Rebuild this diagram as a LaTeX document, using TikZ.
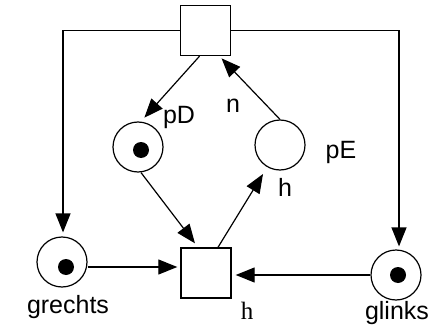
\documentclass[tikz,border=0pt]{standalone}
\usepackage{fontspec}
\setmainfont{Liberation Sans}
\newfontfamily\serifh{Liberation Serif}
\usetikzlibrary{arrows.meta,calc}
\tikzset{
  place/.style={circle,draw,line width=1.2pt,minimum size=50pt,inner sep=0pt},
  trans/.style={rectangle,draw,line width=1.4pt,minimum size=50pt,inner sep=0pt},
  token/.style={circle,fill=black,minimum size=16pt,inner sep=0pt},
  arc/.style={-{Triangle[length=19pt,width=15pt]},line width=1.2pt},
  lbl/.style={font=\fontsize{25}{28}\selectfont,inner sep=0pt},
}

\begin{document}
\begin{tikzpicture}[x=1pt,y=-1pt]
  \useasboundingbox[fill=white] (0,0) rectangle (436,334);

  % transitions
  \node[trans] (tTop) at (205.5,30.5) {};
  \node[trans] (tBot) at (206,273) {};

  % places and their tokens
  \foreach \name/\x/\y in {pD/138/147, pE/280/145, gR/62/262, gL/396/275}{
    \node[place] (\name) at (\x,\y) {};
  }
  \foreach \name/\x/\y in {tokD/141/150, tokR/66/267, tokL/398/275}{
    \node[token] (\name) at (\x,\y) {};
  }

  % arcs
  \draw[arc,shorten >=4pt] (tTop.west) -| ([xshift=1pt]gR.north);
  \draw[arc,shorten >=3pt] (tTop.east) -| ([xshift=3pt]gL.north);
  \draw[arc,shorten >=5pt] ([xshift=-6pt]tTop.south) -- ([xshift=3pt]pD.north);
  \draw[arc,shorten >=3pt] (pE.north) -- ([xshift=14pt]tTop.south);
  \draw[arc,shorten >=5pt] ([xshift=3pt]pD.south) -- ([xshift=-8pt]tBot.north);
  \draw[arc,shorten >=8pt] ([xshift=12pt]tBot.north) -- (pE.240);
  \draw[arc,shorten >=3pt] ([yshift=-5pt]gR.east) -- ([yshift=-5pt]gR.east -| tBot.west);
  \draw[arc,shorten >=4pt] (gL.west) -- (gL.west -| tBot.east);

  % labels
  \node[lbl] (lpD) at (179,117) {pD};
  \node[lbl] (ln) at (233,106) {n};
  \node[lbl] (lpE) at (341,152) {pE};
  \node[lbl] (lhE) at (285,187) {h};
  \node[lbl] (lgR) at (68,307) {grechts};
  \node[lbl] (lgL) at (397,313) {glinks};
  \node[lbl,font=\serifh\fontsize{25}{28}\selectfont] (lhB) at (247,311) {h};
\end{tikzpicture}
\end{document}
